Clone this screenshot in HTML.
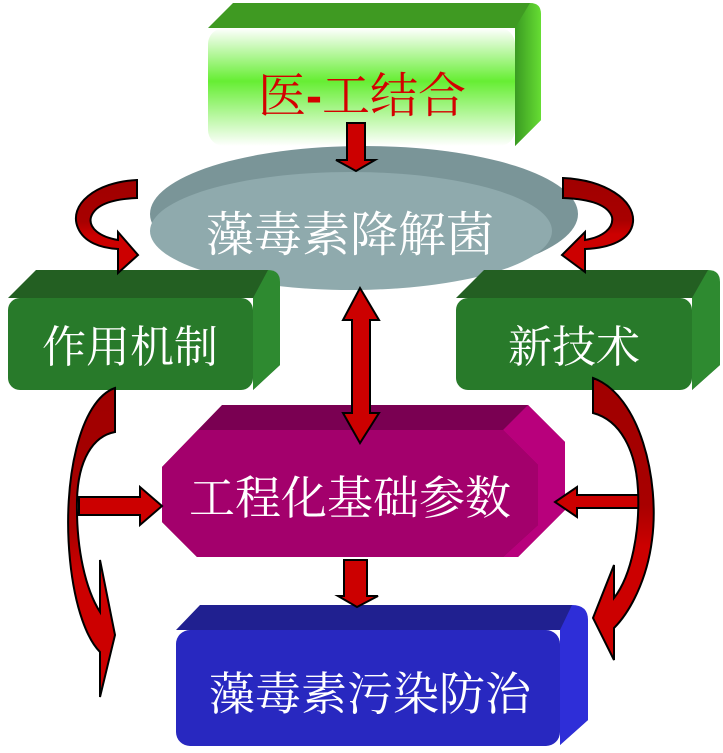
<!DOCTYPE html>
<html><head><meta charset="utf-8"><style>
html,body{margin:0;padding:0;background:#fff;}
svg{display:block;}
text{font-family:"Noto Serif CJK SC","Liberation Serif",serif;}
</style></head><body>
<svg width="723" height="753" viewBox="0 0 723 753" xmlns="http://www.w3.org/2000/svg">
<defs>
<linearGradient id="gw" x1="0" y1="0" x2="0" y2="1">
<stop offset="0" stop-color="#ffffff"/><stop offset="0.45" stop-color="#66ee33"/><stop offset="1" stop-color="#ffffff"/>
</linearGradient>
<linearGradient id="gr" x1="0" y1="0" x2="1" y2="0">
<stop offset="0" stop-color="#3a9a22"/><stop offset="1" stop-color="#66dd33"/>
</linearGradient>
<linearGradient id="rib" x1="0" y1="0" x2="0" y2="1">
<stop offset="0" stop-color="#a00000"/><stop offset="0.45" stop-color="#a80000"/><stop offset="0.6" stop-color="#cc0000"/><stop offset="1" stop-color="#cc0000"/>
</linearGradient>
</defs>

<polygon points="208,28 233,3 530,3 541,14 541,120 515,146 515,28" fill="#3f9a22"/>
<path d="M515,28 L530,3 Q541,3 541,14 L541,120 L515,146 Z" fill="url(#gr)"/>
<rect x="208" y="28" width="307" height="118" rx="16" fill="url(#gw)"/>
<text x="362" y="112" font-size="48" fill="#d40000" text-anchor="middle">医<tspan font-family="Liberation Sans" font-weight="bold">-</tspan>工结合</text>

<ellipse cx="364" cy="214" rx="214" ry="68" fill="#7a9598"/>
<ellipse cx="351" cy="231" rx="201" ry="59" fill="#8faaad"/>
<text x="350" y="251" font-size="48" fill="#fff" text-anchor="middle">藻毒素降解菌</text>

<polygon points="8,298 36,270 268,270 280,282 280,365 253,390 253,298" fill="#235f22"/>
<path d="M253,298 L268,270 Q280,270 280,282 L280,365 L253,390 Z" fill="#2e8a30"/>
<rect x="8" y="298" width="245" height="92" rx="12" fill="#287a2a"/>
<text x="130" y="362" font-size="44" fill="#fff" text-anchor="middle">作用机制</text>

<polygon points="456,298 484,270 708,270 720,282 720,365 692,390 692,298" fill="#235f22"/>
<path d="M692,298 L708,270 Q720,270 720,282 L720,365 L692,390 Z" fill="#2e8a30"/>
<rect x="456" y="298" width="236" height="92" rx="12" fill="#287a2a"/>
<text x="574" y="362" font-size="44" fill="#fff" text-anchor="middle">新技术</text>

<polygon points="222,405 528,405 565,442 565,510 518,557 197,557 162,522 162,467" fill="#7a0052"/>
<polygon points="528,405 565,442 565,510 518,557 503,557 538,525 538,465 503,430" fill="#b8007c"/>
<polygon points="198,430 503,430 538,465 538,525 503,557 197,557 162,522 162,467" fill="#a3006c"/>
<text x="350" y="514" font-size="46" fill="#fff" text-anchor="middle">工程化基础参数</text>

<polygon points="176,630 200,605 572,605 588,620 588,720 560,745 560,630" fill="#202090"/>
<path d="M560,630 L572,605 Q588,605 588,620 L588,720 L560,745 Z" fill="#2e2ed8"/>
<rect x="176" y="630" width="384" height="116" rx="14" fill="#2828c0"/>
<text x="370" y="710" font-size="46" fill="#fff" text-anchor="middle">藻毒素污染防治</text>

<g stroke="#000" stroke-width="2" stroke-linejoin="miter">
<polygon points="347,123 365,123 365,160 375,160 356,171 336,160 347,160" fill="#cc0000"/>
<polygon points="360,288 379,320 370,320 370,413 379,413 360,443 343,413 352,413 352,320 343,320" fill="#cc0000"/>
<polygon points="344,560 367,560 367,596 378,596 357,607 338,596 344,596" fill="#cc0000"/>
<polygon points="79,497 140,497 140,487 162,506 140,525 140,515 79,515" fill="#cc0000"/>
<polygon points="644,495 577,495 577,487 555,502 577,517 577,508 644,508" fill="#cc0000"/>
<path d="M137,180 C95,182 68,205 78,228 C84,242 100,248 118,249 L118,273 L138,255 L118,232 L118,240 C100,237 88,228 91,217 C95,205 112,199 137,198 Z" fill="url(#rib)"/>
<path d="M563,178 C605,180 635,200 633,222 C631,240 610,248 585,249 L585,272 L562,255 L585,232 L585,240 C603,237 614,228 612,217 C608,205 590,199 563,198 Z" fill="url(#rib)"/>
<path d="M115,388 C80,400 62,480 70,560 C75,610 88,640 100,652 L100,697 L115,635 L100,560 L100,612 C86,590 76,550 77,500 C78,460 93,436 115,432 Z" fill="url(#rib)"/>
<path d="M593,378 C640,395 660,480 652,540 C647,580 630,612 614,628 L614,660 L593,618 L614,565 L614,598 C632,575 640,530 638,490 C636,450 620,420 593,413 Z" fill="url(#rib)"/>
</g>
</svg>
</body></html>
